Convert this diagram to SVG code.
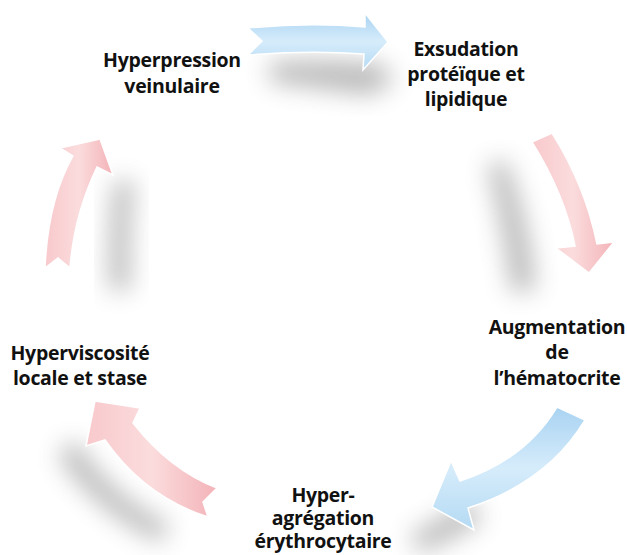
<svg xmlns="http://www.w3.org/2000/svg" width="627" height="555" viewBox="0 0 627 555">
<defs>
<style>
.t{font-family:"Open Sans","Liberation Sans",sans-serif;font-weight:bold;font-size:19.5px;fill:#111;text-anchor:middle;letter-spacing:-0.3px}
.sh{fill:#666;opacity:0.45;filter:url(#blur)}
.blue{fill:url(#gb);stroke:#ffffff;stroke-width:1.5}
.pink{fill:url(#gp);stroke:#ffffff;stroke-width:1.5}
</style>
<filter id="blur" x="-60%" y="-60%" width="220%" height="220%"><feGaussianBlur stdDeviation="12"/></filter>
<linearGradient id="gb" x1="0" y1="0" x2="0" y2="1"><stop offset="0" stop-color="#a9d3f2"/><stop offset="0.5" stop-color="#d6ecfb"/><stop offset="1" stop-color="#b4daf3"/></linearGradient>
<linearGradient id="gp" x1="0" y1="0" x2="1" y2="0"><stop offset="0" stop-color="#f8c9cc"/><stop offset="0.5" stop-color="#fbdcdd"/><stop offset="1" stop-color="#f3b3b8"/></linearGradient>
</defs>
<rect width="627" height="555" fill="#fff"/>
<g id="shadows">
<path class="sh" d="M270,62 Q330,58 380,64 L395,80 L370,95 Q320,88 270,82 Z"/>
<path class="sh" d="M505,160 Q530,220 535,290 L512,292 Q503,225 488,165 Z"/>
<path class="sh" d="M470,500 Q440,520 410,535 L420,552 Q450,542 482,520 Z"/>
<path class="sh" d="M75,440 Q110,495 170,525 L160,542 Q95,512 58,455 Z"/>
<path class="sh" d="M115,180 Q108,230 110,290 L130,290 Q128,230 134,182 Z"/>
</g>
<g id="connectors">
<path class="blue" d="M248,28 Q310,22 365,27 L365,13 L388,42 L363,70 L364,54 Q310,50 248,55 L262,41 Z"/>
<path class="pink" d="M532,142 L552,133 Q585,185 597,244 L614,242 L589,273 L556,248 L575,246 Q565,195 532,142 Z"/>
<path class="blue" d="M557,407 Q525,460 460,481 L451,461 L432,507 L474,530 L468,508 Q548,482 585,420 Z"/>
<path class="pink" d="M217,488 Q170,470 133,423 L140,408 L95,401 L86,446 L105,440 Q145,497 208,517 L203,502 Z"/>
<path class="pink" d="M45,268 Q48,200 73,156 L60,148 L100,139 L113,175 L97,167 Q74,215 70,268 L58,258 Z"/>
</g>
<g id="n1"><text class="t" x="172" y="67">Hyperpression</text><text class="t" x="172" y="93">veinulaire</text></g>
<g id="n2"><text class="t" x="466" y="56">Exsudation</text><text class="t" x="466" y="81">protéïque et</text><text class="t" x="466" y="106">lipidique</text></g>
<g id="n3"><text class="t" x="557" y="334">Augmentation</text><text class="t" x="557" y="359">de</text><text class="t" x="557" y="385">l’hématocrite</text></g>
<g id="n4"><text class="t" x="323" y="502">Hyper-</text><text class="t" x="323" y="525">agrégation</text><text class="t" x="323" y="548">érythrocytaire</text></g>
<g id="n5"><text class="t" x="80" y="360">Hyperviscosité</text><text class="t" x="80" y="385">locale et stase</text></g>
</svg>
